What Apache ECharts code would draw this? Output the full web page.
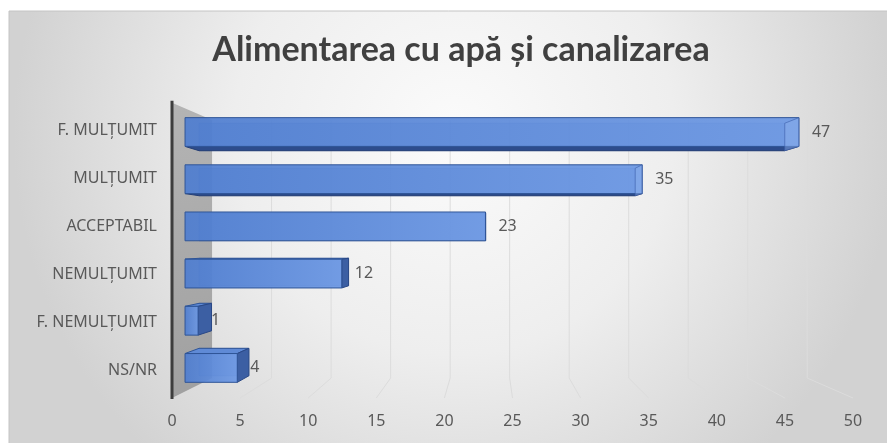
<!DOCTYPE html>
<html><head><meta charset="utf-8">
<script src="https://cdn.jsdelivr.net/npm/echarts@6/dist/echarts.min.js"></script>
<style>html,body{margin:0;padding:0;background:#fff}#main{width:887px;height:443px}</style>
</head><body><div id="main"></div>
<script>
// ---- data ----
const categories = ['F. MULȚUMIT', 'MULȚUMIT', 'ACCEPTABIL', 'NEMULȚUMIT', 'F. NEMULȚUMIT', 'NS/NR'];
const values = [47, 35, 23, 12, 1, 4];
const xTicks = [0, 5, 10, 15, 20, 25, 30, 35, 40, 45, 50];
const titleText = 'Alimentarea cu apă și canalizarea';

// ---- style / projection ----
const TITLE_FONT = 'Lato, sans-serif';
const FONT = '"Noto Sans", sans-serif';
const LABEL_SIZE = 16;
const VP = [490, 240];
const K_FRONT = 0.959, K_BACK = 0.915, K_WALL = 0.874;
function P(pt, k) { return [VP[0] + (pt[0] - VP[0]) * k, VP[1] + (pt[1] - VP[1]) * k]; }

const chart = echarts.init(document.getElementById('main'), null, { renderer: 'canvas' });

function renderGrid(params, api) {
  const t = api.value(0);
  const cs = params.coordSys;
  const x = api.coord([t, 0])[0];
  const top = cs.y, bottom = cs.y + cs.height;
  const bt = P([x, top], K_WALL), bb = P([x, bottom], K_WALL);
  if (t === 0) {
    return {
      type: 'group',
      children: [
        { type: 'polygon', shape: { points: [[x, top], bt, bb, [x, bottom]] },
          style: { fill: new echarts.graphic.LinearGradient(0, 0, 1, 1, [
            { offset: 0, color: '#b4b4b4' }, { offset: 1, color: '#a0a0a0' }]) } },
        { type: 'line', shape: { x1: x, y1: top - 2, x2: x, y2: bottom + 1 },
          style: { stroke: '#3d3d3d', lineWidth: 3 } }
      ]
    };
  }
  return { type: 'polyline', shape: { points: [bt, bb, [x, bottom]] },
    style: { stroke: '#dcdcdc', lineWidth: 1, fill: null } };
}

function renderBar(params, api) {
  const idx = api.value(1);
  const v = api.value(0);
  const s = api.coord([0, idx]);
  const e = api.coord([v, idx]);
  const band = api.size([0, 1])[1];
  const h = band * 0.305;
  const corners = [[s[0], e[1] - h], [e[0], e[1] - h], [e[0], e[1] + h], [s[0], e[1] + h]];
  const ff = corners.map(p => P(p, K_FRONT));
  const bk = corners.map(p => P(p, K_BACK));
  const children = [];
  children.push({ type: 'polygon', shape: { points: bk },
    style: { fill: 'rgba(70,110,190,0.35)', stroke: 'rgba(40,70,140,0.35)', lineWidth: 1 } });
  const endVisible = bk[1][0] > ff[1][0];
  if (bk[0][1] < ff[0][1]) {
    children.push({ type: 'polygon', shape: { points: [ff[0], ff[1], bk[1], bk[0]] },
      style: { fill: '#5f8ad6', stroke: '#2f5597', lineWidth: 1 } });
  }
  if (bk[3][1] > ff[3][1]) {
    children.push({ type: 'polygon', shape: { points: [ff[3], ff[2], bk[2], bk[3]] },
      style: { fill: '#2d4c8c', stroke: '#263f75', lineWidth: 1 } });
  }
  if (endVisible) {
    children.push({ type: 'polygon', shape: { points: [ff[1], bk[1], bk[2], ff[2]] },
      style: { fill: '#3c5fa3', stroke: '#2a4886', lineWidth: 1 } });
  }
  children.push({ type: 'polygon', shape: { points: ff },
    style: { fill: new echarts.graphic.LinearGradient(0, 0, 1, 0, [
      { offset: 0, color: 'rgba(78,125,208,0.92)' }, { offset: 1, color: 'rgba(108,152,228,0.92)' }]),
      stroke: '#2f5597', lineWidth: 1 } });
  if (!endVisible) {
    children.push({ type: 'polygon', shape: { points: [ff[1], bk[1], bk[2], ff[2]] },
      style: { fill: 'rgba(140,175,235,0.45)', stroke: 'rgba(60,95,170,0.6)', lineWidth: 1 } });
  }
  children.push({ type: 'text', x: ff[1][0] + 13, y: e[1] * K_FRONT + VP[1] * (1 - K_FRONT),
    style: { text: String(v), fill: '#595959', fontFamily: FONT, fontSize: LABEL_SIZE,
      verticalAlign: 'middle', align: 'left' } });
  return { type: 'group', children };
}

const option = {
  animation: false,
  backgroundColor: 'transparent',
  graphic: [
    { type: 'rect', z: -10, shape: { x: 9, y: 11, width: 890, height: 440 },
      style: { fill: new echarts.graphic.RadialGradient(0.5, 0.28, 1, [
        { offset: 0, color: '#fbfbfb' }, { offset: 0.5, color: '#eeeeee' }, { offset: 1, color: '#d2d2d2' }]),
        stroke: '#c4c4c4', lineWidth: 1 } }
  ],
  title: {
    text: titleText, left: 456, top: 28, textAlign: 'center',
    textStyle: { fontFamily: TITLE_FONT, fontWeight: 'bold', fontSize: 34, color: '#404040' }
  },
  grid: [
    { left: 172, top: 102.8, width: 681, height: 295.2 },
    { left: 172, top: 107, width: 681, height: 287 }
  ],
  xAxis: [
    { type: 'value', gridIndex: 0, min: 0, max: 50, interval: 5,
      axisLine: { show: false }, axisTick: { show: false }, splitLine: { show: false },
      axisLabel: { margin: 15, color: '#595959', fontFamily: FONT, fontSize: LABEL_SIZE,
        customValues: xTicks } },
    { type: 'value', gridIndex: 1, min: 0, max: 50, show: false }
  ],
  yAxis: [
    { type: 'category', gridIndex: 0, data: categories, inverse: true, show: false },
    { type: 'category', gridIndex: 1, data: categories, inverse: true,
      axisLine: { show: false }, axisTick: { show: false },
      axisLabel: { margin: 15, color: '#595959', fontFamily: FONT, fontSize: LABEL_SIZE } }
  ],
  series: [
    { type: 'custom', name: 'grid', xAxisIndex: 0, yAxisIndex: 0, z: 1, silent: true,
      renderItem: renderGrid, data: xTicks.map(t => [t]) },
    { type: 'custom', name: 'Alimentarea', xAxisIndex: 0, yAxisIndex: 0, z: 2,
      renderItem: renderBar, data: values.map((v, i) => [v, i]) }
  ]
};
chart.setOption(option);
</script></body></html>
